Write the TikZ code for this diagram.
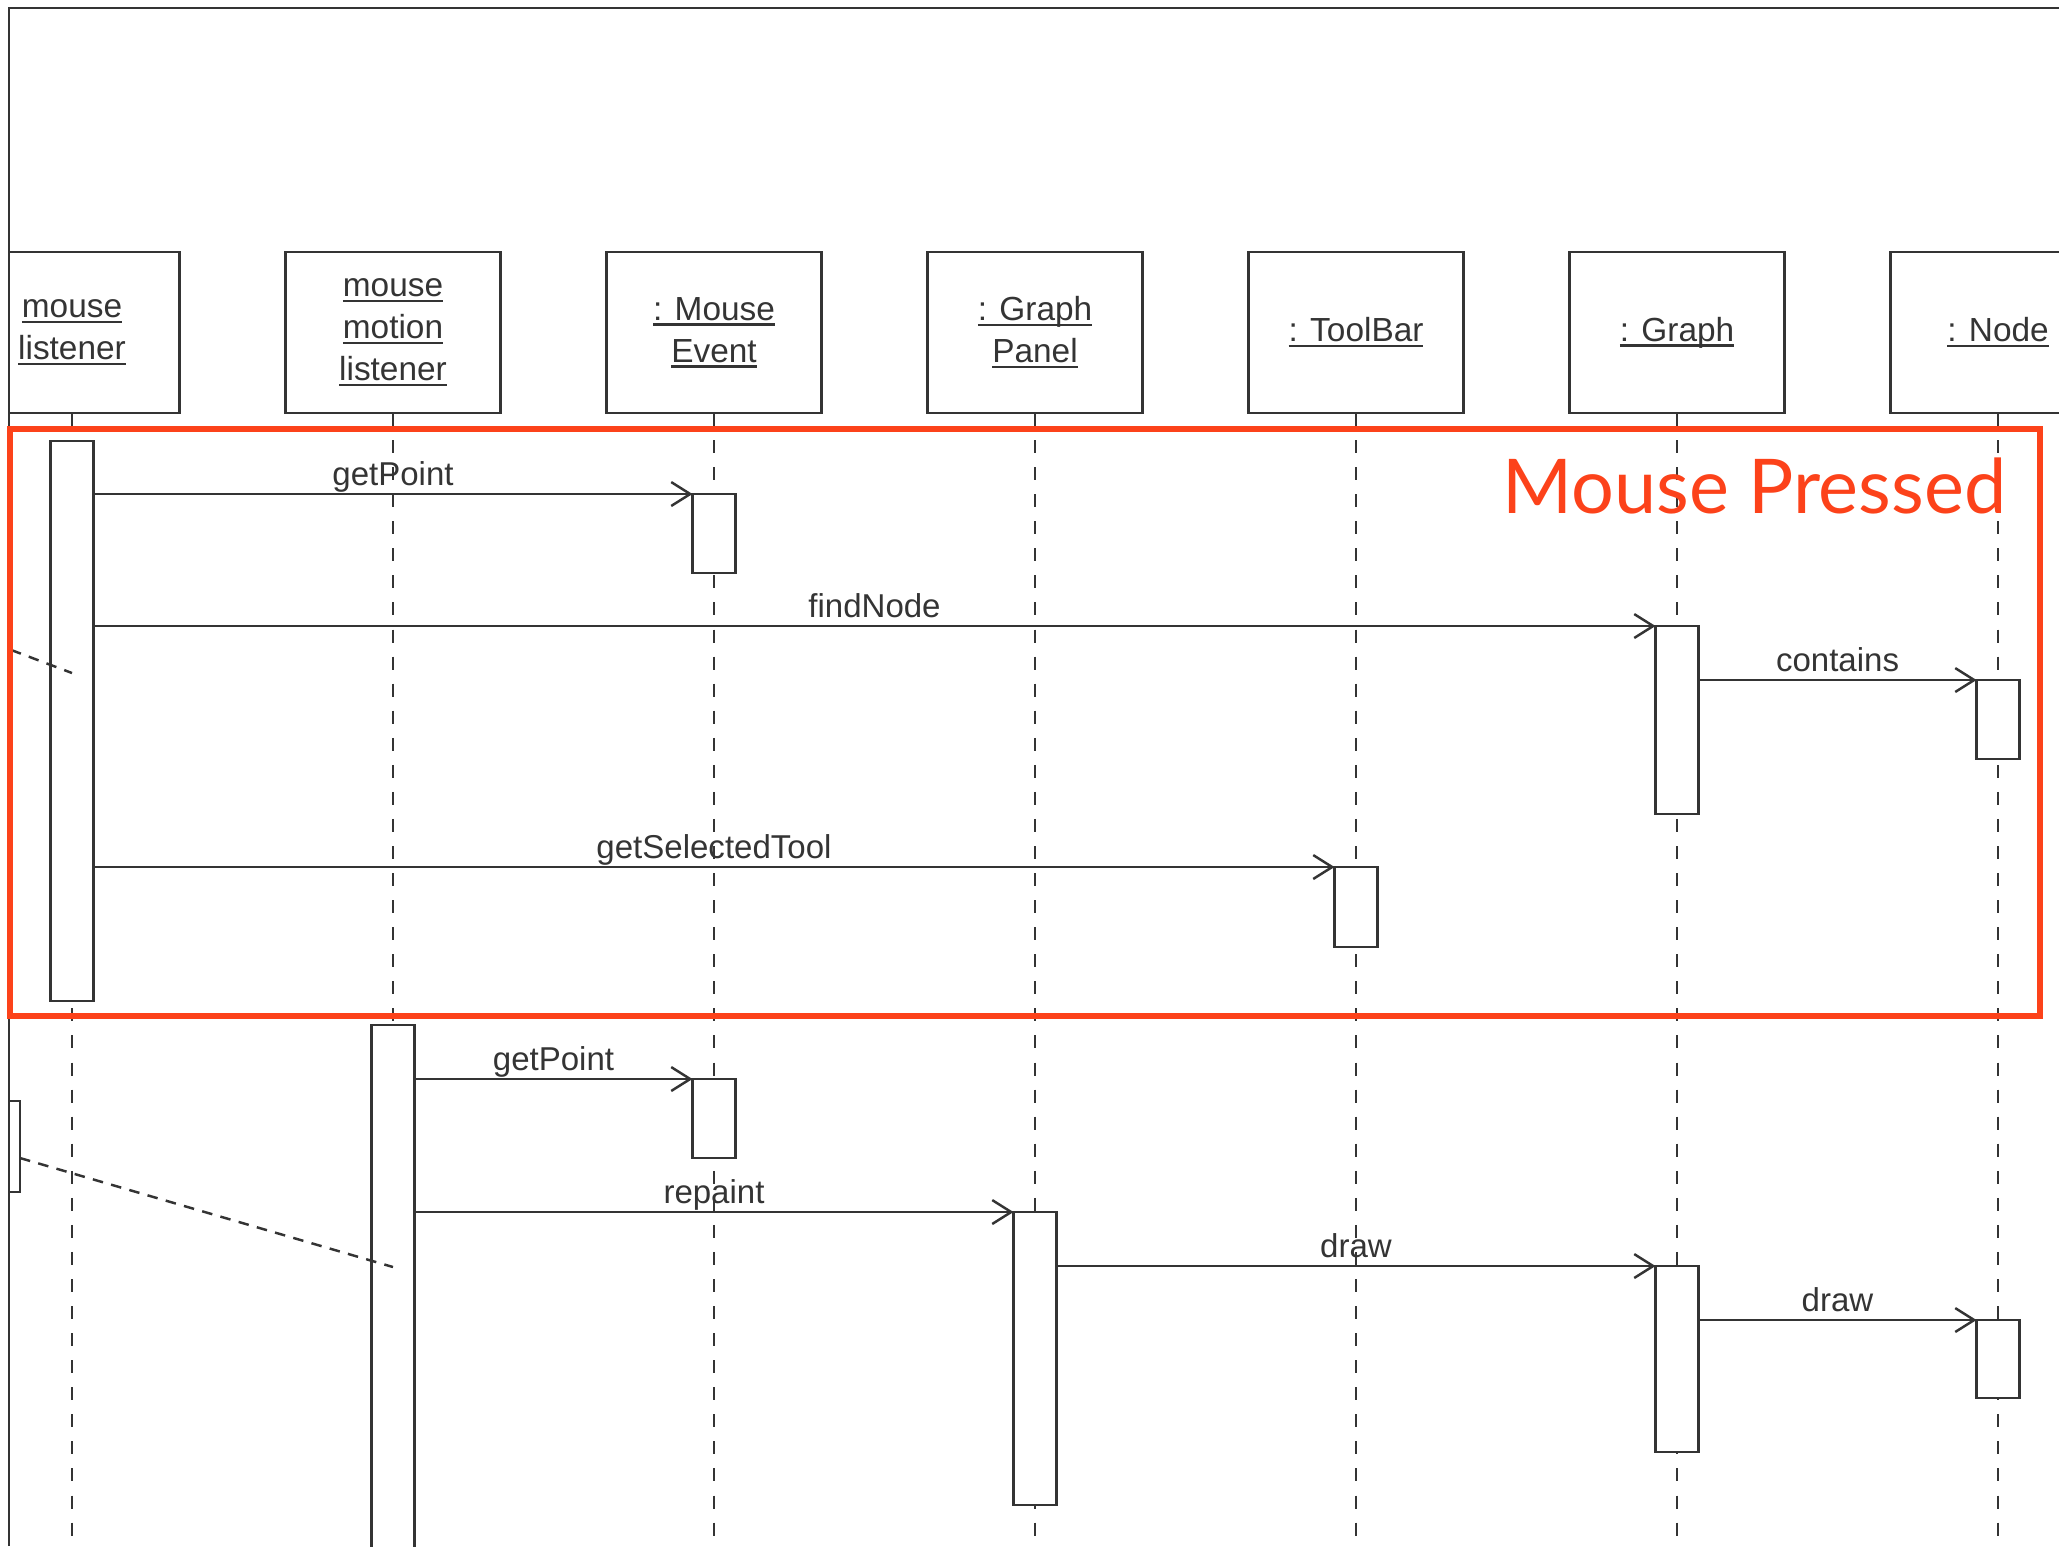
\documentclass[tikz,border=0pt]{standalone}
\usepackage{fontspec}
\newfontfamily\umlfont{Liberation Sans}
\newfontfamily\notefont{Lato}
\usepackage{xcolor}
\usepackage{tikz}
\usetikzlibrary{positioning,arrows.meta}
\definecolor{umlgray}{RGB}{52,52,52}
\definecolor{pressred}{RGB}{252,66,26}
\newcommand{\objname}[1]{\leavevmode\setbox0\hbox{#1}\rlap{\rule[-0.17em]{\wd0}{0.075em}}\box0}

\begin{document}
\begin{tikzpicture}[
  node distance=1.06cm,
  obj/.style={
    draw=umlgray,
    line width=0.7pt,
    rectangle,
    align=center,
    minimum width=2.15cm,
    minimum height=1.61cm,
    inner sep=0pt,
    outer sep=0pt,
    text=umlgray,
    font=\umlfont\fontsize{9.5}{11.95}\selectfont
  },
  act/.style={draw=umlgray, line width=0.7pt, fill=white, rectangle,
    minimum width=0.43cm, inner sep=0pt, outer sep=0pt, anchor=north},
  lifeline/.style={draw=umlgray, line width=0.8pt, dash pattern=on 3.7pt off 4pt},
  msg/.style={draw=umlgray, line width=0.7pt,
    -{Straight Barb[length=5.4pt,width=6.8pt]}},
  lbl/.style={midway, anchor=base, yshift=0.085cm, inner sep=0pt,
    text=umlgray, font=\umlfont\fontsize{9.4}{11}\selectfont},
  notelink/.style={draw=umlgray, line width=0.7pt, dash pattern=on 3pt off 2.4pt}
]
\useasboundingbox (0,0) rectangle (20.59,-15.46);

\begin{scope}
\clip (0.09,-0.08) rectangle (20.59,-15.46);
\coordinate (bottom) at (0,-15.46);

% objects
\node[obj] (ml) at (0.72,-3.325) {\objname{mouse}\\\objname{listener}};
\node[obj, right=of ml] (mml) {\objname{mouse}\\\objname{motion}\\\objname{listener}};
\node[obj, right=of mml] (me) {\objname{: Mouse}\\\objname{Event}};
\node[obj, right=of me] (gp) {\objname{: Graph}\\\objname{Panel}};
\node[obj, right=of gp] (tb) {\objname{: ToolBar}};
\node[obj, right=of tb] (gr) {\objname{: Graph}};
\node[obj, right=of gr] (nd) {\objname{: Node}};

% lifelines
\foreach \o in {ml,mml,me,gp,tb,gr,nd}
  \draw[lifeline] (\o.south) -- (\o.south |- bottom);

% mouse pressed
\node[act, minimum height=5.60cm] (mlA) at (ml.south |- 0,-4.41) {};
\node[act, minimum height=0.79cm] (meA) at (me.south |- 0,-4.94) {};
\node[act, minimum height=1.88cm] (grA) at (gr.south |- 0,-6.26) {};
\node[act, minimum height=0.79cm] (ndA) at (nd.south |- 0,-6.80) {};
\node[act, minimum height=0.80cm] (tbA) at (tb.south |- 0,-8.67) {};

\draw[msg] (mlA.east |- meA.north) -- (meA.north west) node[lbl] {getPoint};
\draw[msg] (mlA.east |- grA.north) -- (grA.north west) node[lbl] {findNode};
\draw[msg] (grA.east |- ndA.north) -- (ndA.north west) node[lbl] {contains};
\draw[msg] (mlA.east |- tbA.north) -- (tbA.north west) node[lbl] {getSelectedTool};

% mouse dragged
\node[act, minimum height=6.00cm] (mmlB) at (mml.south |- 0,-10.25) {};
\node[act, minimum height=0.79cm] (meB) at (me.south |- 0,-10.79) {};
\node[act, minimum height=2.93cm] (gpB) at (gp.south |- 0,-12.12) {};
\node[act, minimum height=1.86cm] (grB) at (gr.south |- 0,-12.66) {};
\node[act, minimum height=0.78cm] (ndB) at (nd.south |- 0,-13.20) {};
\node[act, minimum height=0.91cm] (lb) at (-0.015,-11.01) {};

\draw[msg] (mmlB.east |- meB.north) -- (meB.north west) node[lbl] {getPoint};
\draw[msg] (mmlB.east |- gpB.north) -- (gpB.north west) node[lbl] {repaint};
\draw[msg] (gpB.east |- grB.north) -- (grB.north west) node[lbl] {draw};
\draw[msg] (grB.east |- ndB.north) -- (ndB.north west) node[lbl] {draw};

% links from the left
\coordinate (pressIn) at (-0.60,-6.23);
\coordinate (pressEnd) at (mlA.north |- 0,-6.73);
\coordinate (dragEnd) at (mmlB.north |- 0,-12.67);
\draw[notelink] (pressIn) -- (pressEnd);
\draw[notelink] (lb.east |- 0,-11.58) -- (dragEnd);
\end{scope}

% frame
\draw[umlgray, line width=0.8pt] (0.09,-15.46) -- (0.09,-0.08) -- (20.59,-0.08);

% highlight
\draw[pressred, line width=1.5pt] (0.10,-4.29) rectangle (20.40,-10.16);
\node[anchor=base east, inner sep=0pt, text=pressred,
  font=\notefont\fontsize{21.5}{24}\selectfont] (pressed) at (20.07,-5.13) {Mouse Pressed};

\end{tikzpicture}
\end{document}
